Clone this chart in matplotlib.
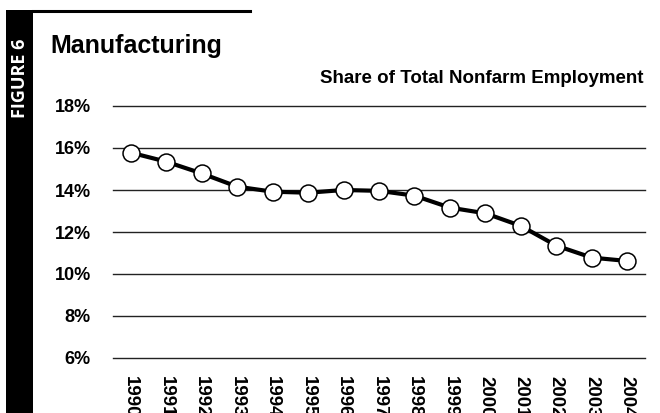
import matplotlib
matplotlib.use("Agg")
import matplotlib.pyplot as plt
from matplotlib.patches import Rectangle
from matplotlib.lines import Line2D

years = ["1990", "1991", "1992", "1993", "1994", "1995", "1996", "1997",
         "1998", "1999", "2000", "2001", "2002", "2003", "2004"]
share = [15.78, 15.35, 14.79, 14.16, 13.92, 13.87, 14.00, 13.96,
         13.73, 13.16, 12.89, 12.29, 11.35, 10.78, 10.62]
y_ticks = [6, 8, 10, 12, 14, 16, 18]

plt.rcParams['font.family'] = ['Liberation Sans', 'DejaVu Sans']

W, H = 660, 413
fig = plt.figure(figsize=(W / 100, H / 100), dpi=100)
ax = fig.add_axes([113 / W, 1 - 358 / H, (645 - 113) / W, (358 - 106) / H])

x = list(range(len(years)))
ax.plot(x, share, color="black", lw=3, marker="o", ms=12.2,
        mfc="white", mec="black", mew=1.1, zorder=3, clip_on=False)

ax.set_xlim(-0.5, len(years) - 0.5)
ax.set_ylim(6, 18)
ax.set_yticks(y_ticks)
ax.set_yticklabels([f"{t}%" for t in y_ticks], fontsize=13, fontweight="bold")
ax.set_xticks(x)
ax.set_xticklabels(years, rotation=-90, fontsize=13.5, fontweight="bold",
                   va="top", ha="center")
ax.tick_params(axis="y", length=0, pad=16)
ax.tick_params(axis="x", length=0, pad=13)
ax.yaxis.grid(True, color="#222222", lw=1)
for gl in ax.get_ygridlines():
    gl.set_clip_on(False)
ax.set_axisbelow(True)
for s in ax.spines.values():
    s.set_visible(False)

# side banner and top rule
fig.add_artist(Rectangle((6 / W, 0), 27 / W, 1 - 9.5 / H, transform=fig.transFigure,
                         facecolor="black", edgecolor="none"))
fig.add_artist(Line2D([33 / W, 250 / W], [1 - 11 / H, 1 - 11 / H], transform=fig.transFigure,
                      color="black", lw=2.2))
fig.text(20 / W, 1 - 39 / H, "FIGURE 6", rotation=90, color="white", fontsize=13,
         fontweight="bold", family=["Open Sans", "DejaVu Sans"], ha="center", va="top")

fig.text(50 / W, 1 - 53 / H, "Manufacturing", fontsize=18, fontweight="bold",
         ha="left", va="baseline")
fig.text(643 / W, 1 - 83 / H, "Share of Total Nonfarm Employment", fontsize=13.5,
         fontweight="bold", ha="right", va="baseline")

fig.savefig("out.png", dpi=100)
